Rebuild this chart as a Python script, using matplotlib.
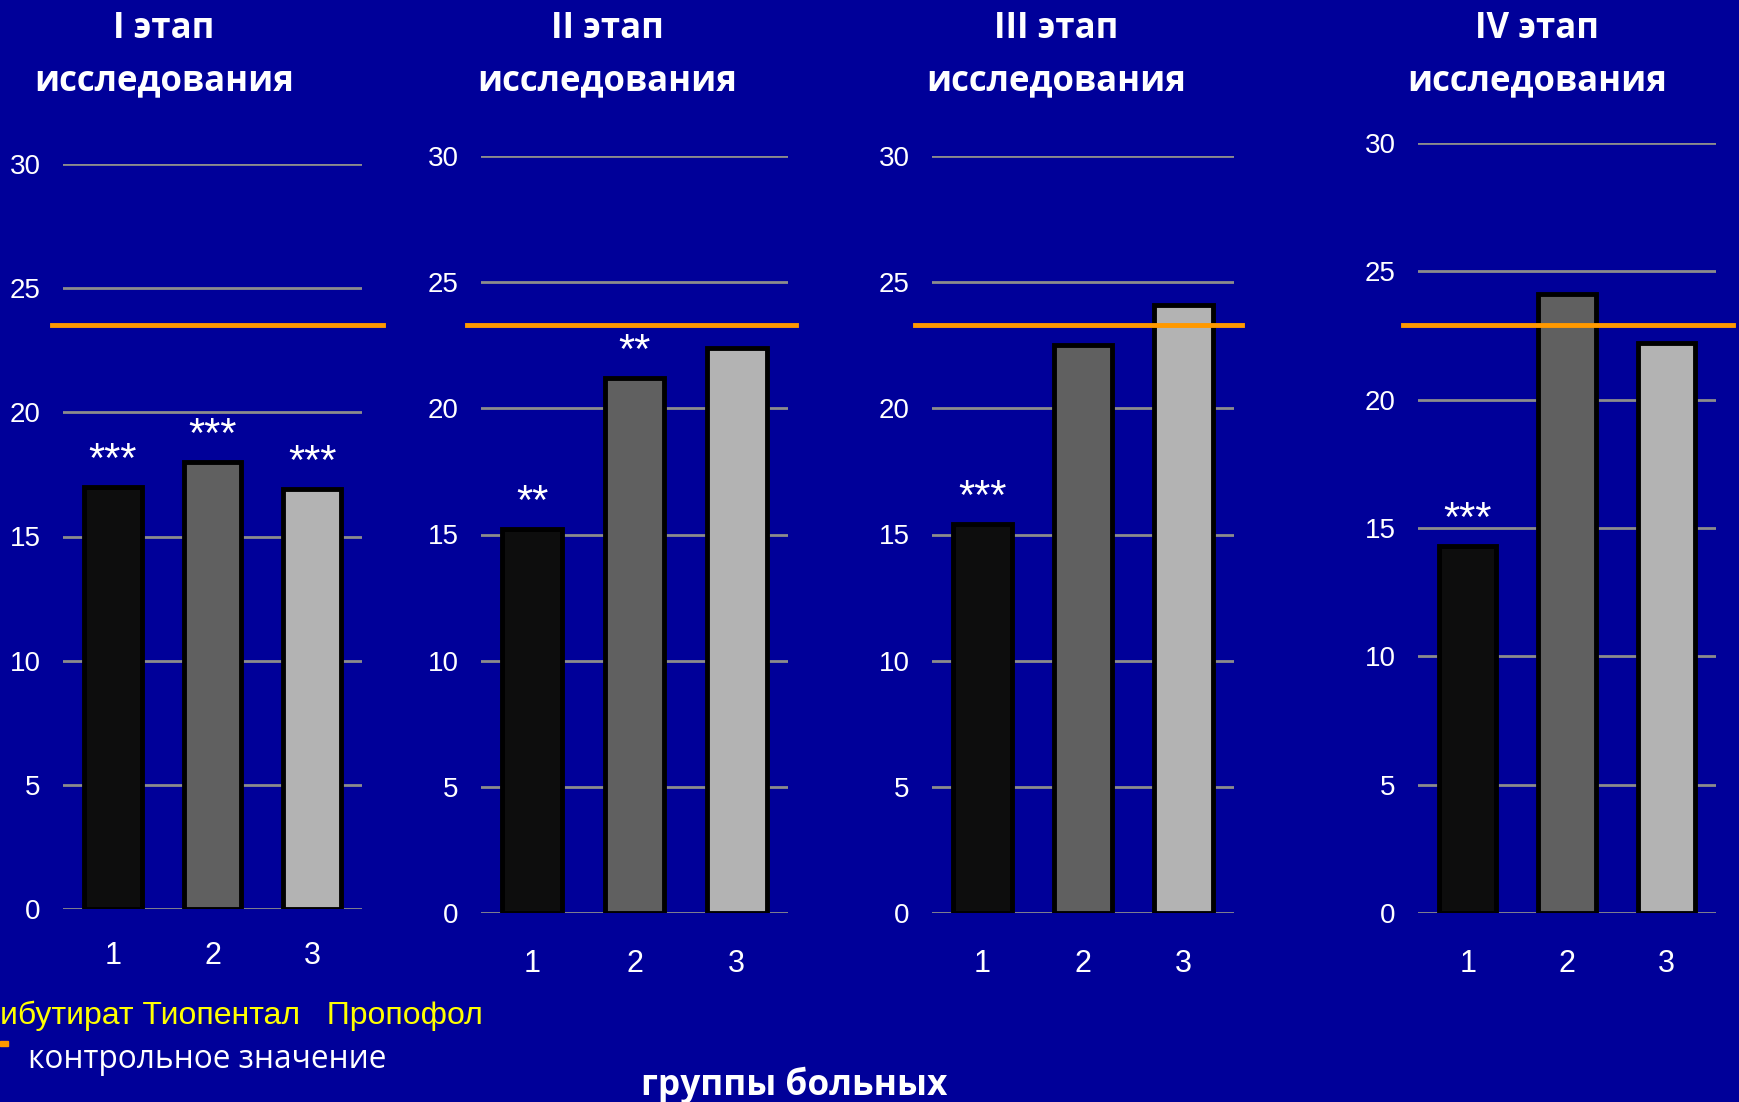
import matplotlib.pyplot as plt
import numpy as np

# data
groups = ['1', '2', '3']
stage_titles = ['I этап\nисследования', 'II этап\nисследования',
                'III этап\nисследования', 'IV этап\nисследования']
stage1 = [17.0, 18.0, 16.9]
stage2 = [15.2, 21.2, 22.4]
stage3 = [15.4, 22.5, 24.1]
stage4 = [14.3, 24.1, 22.2]
control = [23.5, 23.3, 23.3, 22.9]
stars1 = ['***', '***', '***']
stars2 = ['**', '**', '']
stars3 = ['***', '', '']
stars4 = ['***', '', '']
yticks = [0, 5, 10, 15, 20, 25, 30]

stages = [stage1, stage2, stage3, stage4]
stars = [stars1, stars2, stars3, stars4]

bg = '#000099'
bar_colors = ['#0d0d0d', '#606060', '#b3b3b3']
orange = '#ff9900'

W, H = 1739, 1102
fig = plt.figure(figsize=(W / 100, H / 100), dpi=100)
fig.patch.set_facecolor(bg)

# axes boxes in pixels: left, right, top(30), bottom(0)
boxes = [(63, 362, 164, 909), (481, 788, 156, 913),
         (932, 1234, 156, 913), (1418, 1716, 143, 913)]
# where the orange control line starts/ends (in bar units)
line_ext = [(0.39, 3.71), (0.36, 3.58), (0.33, 3.58), (0.35, 3.67)]
title_x = [164, 607, 1056, 1537]
xlab_pad = [23, 26, 26, 26]


def fx(px):
    return px / W


def fy(py):
    return 1 - py / H


x = np.arange(1, 4)
for i in range(4):
    l, r, t, b = boxes[i]
    ax = fig.add_axes([fx(l), fy(b), fx(r) - fx(l), fy(t) - fy(b)])
    ax.set_facecolor(bg)
    ax.set_xlim(0.5, 3.5)
    ax.set_ylim(0, 30)
    ax.set_yticks(yticks)
    ax.yaxis.grid(True, color='#8c8c8c', linewidth=2)
    ax.set_axisbelow(True)
    for s in ax.spines.values():
        s.set_visible(False)
    ax.tick_params(axis='y', length=0, pad=16, labelsize=20, labelcolor='white')
    ax.tick_params(axis='x', length=0, pad=xlab_pad[i], labelsize=22, labelcolor='white')
    ax.set_xticks(x)
    ax.set_xticklabels(groups)
    for lab in ax.get_xticklabels() + ax.get_yticklabels():
        lab.set_fontfamily('Liberation Sans')

    ax.bar(x, stages[i], width=0.58, color=bar_colors,
           edgecolor='black', linewidth=3.5, zorder=3)
    for xi, v, s in zip(x, stages[i], stars[i]):
        if s:
            ax.text(xi, v + 0.6, s, ha='center', va='baseline', color='white',
                    fontsize=30, family='Liberation Sans')
    ax.plot(line_ext[i], [control[i], control[i]], color=orange,
            linewidth=3.5, clip_on=False, zorder=4)

    fig.text(fx(title_x[i]), fy(55), stage_titles[i], ha='center', va='center',
             color='white', fontsize=25, fontweight='bold', family='Open Sans',
             linespacing=1.6)

# legend fragments at the bottom
fig.text(fx(0), fy(1016), 'ибутират Тиопентал   Пропофол', ha='left', va='center',
         color='#ffff00', fontsize=23, family='Liberation Sans')
fig.patches.append(plt.Rectangle((fx(0), fy(1046)), fx(8), 5 / H,
                                 transform=fig.transFigure, color=orange))
fig.text(fx(28), fy(1059), 'контрольное значение', ha='left', va='center',
         color='white', fontsize=22.8, family='Open Sans')
fig.text(fx(794), fy(1085), 'группы больных', ha='center', va='center',
         color='white', fontsize=25.4, fontweight='bold', family='Open Sans')

fig.savefig('out.png', dpi=100, facecolor=bg)
